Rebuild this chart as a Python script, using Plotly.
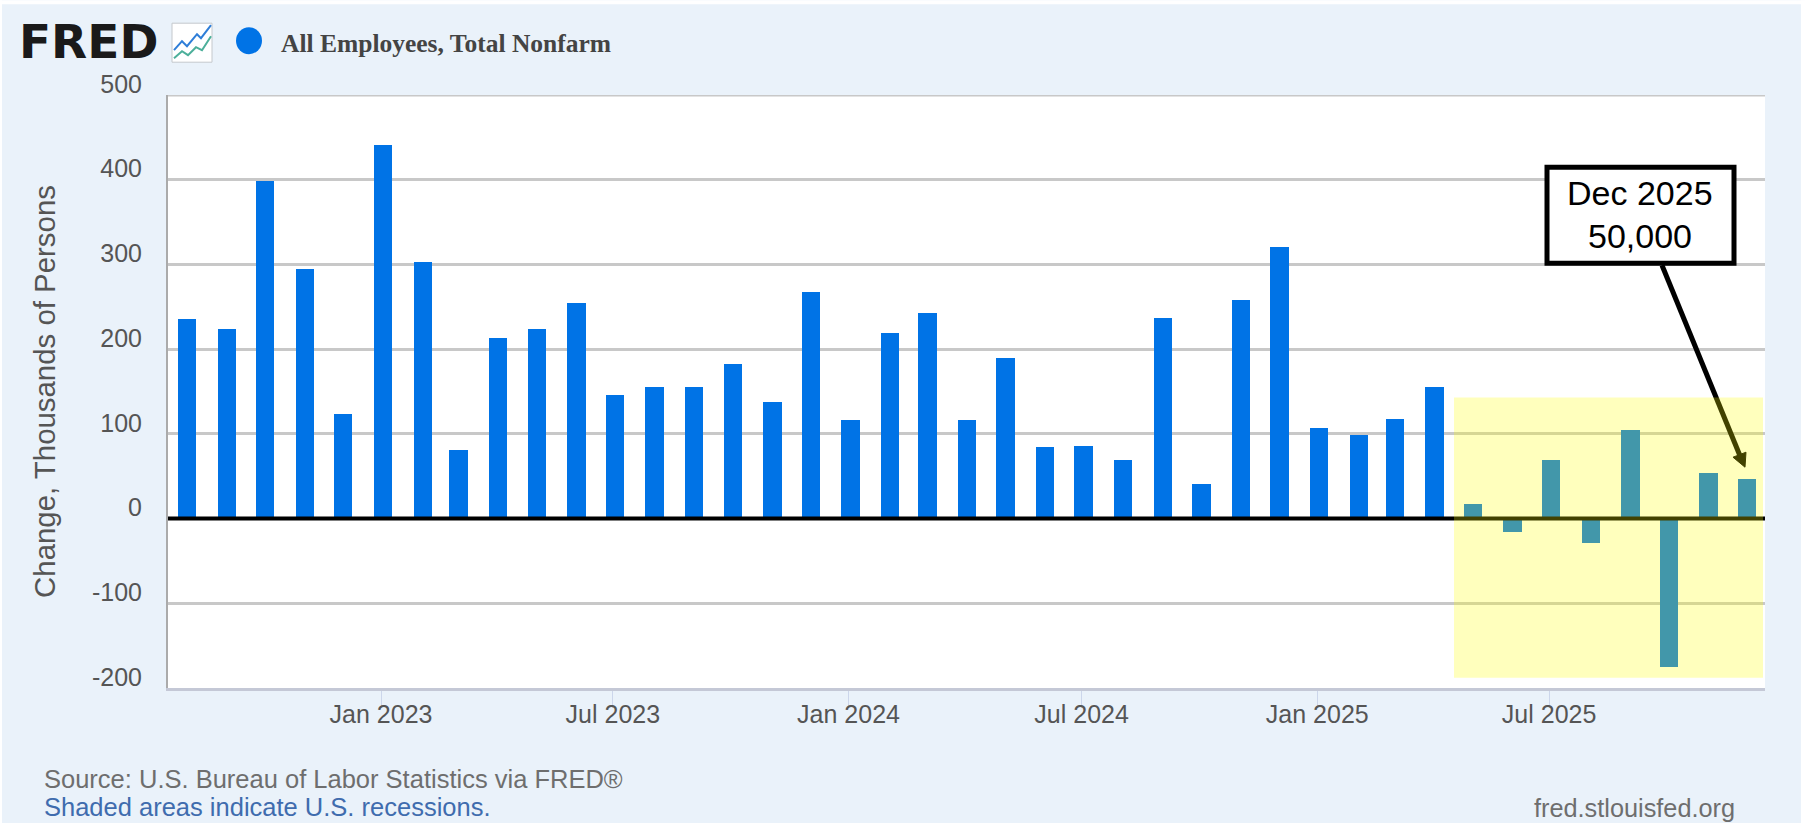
import plotly.graph_objects as go
import pandas as pd

start_month = "2022-08-01"
values = [235, 224, 398, 295, 123, 441, 303, 81, 213, 224, 254, 146, 155, 155, 182, 138, 267,
          116, 219, 243, 116, 189, 84, 86, 69, 237, 41, 258, 321,
          107, 99, 118, 155, 17, -16, 69, -29, 105, -175, 54, 47]
months = pd.date_range(start_month, periods=len(values), freq="MS")
series_name = "All Employees, Total Nonfarm"
y_title = "Change, Thousands of Persons"
y_ticks = [-200, -100, 0, 100, 200, 300, 400, 500]
y_labels = ["-200", "-100", "0", "100", "200", "300", "400", "500"]
callout = ["Dec 2025", "50,000"]
highlight_top = 143
highlight_bottom = -188

SANS = "Liberation Sans"
DAY = 86400000
L, R, T, B = 168, 1765, 94.8, 687.8
W, H = 1805, 823


def px(x):
    return (x - L) / (R - L)


def py(y):
    return (B - y) / (B - T)


def path(points, close=True):
    d = "M" + " L".join(f"{px(x):.5f},{py(y):.5f}" for x, y in points)
    return d + (" Z" if close else "")


def box(x0, y0, x1, y1, fill, line=None, lw=0, kind="rect"):
    return dict(type=kind, xref="paper", yref="paper", x0=px(x0), x1=px(x1), y0=py(y0), y1=py(y1),
                fillcolor=fill, line=dict(color=line or fill, width=lw), layer="above")


def note(text, x, y, size, color, anchor="left", family=SANS, **kw):
    return dict(text=text, x=px(x), y=py(y), xref="paper", yref="paper", showarrow=False,
                xanchor=anchor, yanchor="middle", font=dict(family=family, size=size, color=color, **kw))


fig = go.Figure(go.Bar(x=months, y=values, width=14.3 * DAY, offset=-5.6 * DAY,
                       marker=dict(color="#0073E6", line=dict(width=0)), name=series_name))

shapes = [
    # white edge of the page
    box(0, 0, 2, 823, "#FFFFFF"),
    box(0, 0, 1805, 4, "#FFFFFF"),
    box(1801, 0, 1805, 823, "#FFFFFF"),
    # logo icon
    box(172, 23, 212, 62, "#FFFFFF", "#C4C8CC", 1),
    dict(type="path", xref="paper", yref="paper", layer="above",
         path=path([(174, 50), (182, 41), (187, 46), (197, 34), (201, 38), (211, 25)], False),
         line=dict(color="#2F7ED8", width=2)),
    dict(type="path", xref="paper", yref="paper", layer="above",
         path=path([(174, 58), (182, 51), (188, 55), (196, 47), (202, 50), (211, 36)], False),
         line=dict(color="#4CAF9A", width=2)),
    # legend dot
    box(236, 27, 262, 54, "#0073E6", kind="circle"),
    # top gridline
    dict(type="line", xref="paper", yref="y", x0=0, x1=1, y0=500, y1=500, layer="below",
         line=dict(color="#C8C8C8", width=3)),
    # zero line
    dict(type="line", xref="paper", yref="y", x0=0, x1=1, y0=0, y1=0, layer="above",
         line=dict(color="#000000", width=4)),
    # arrow
    dict(type="path", xref="paper", yref="paper", layer="above",
         path=path([(1662, 265), (1741, 458)], False), line=dict(color="#000000", width=5)),
    dict(type="path", xref="paper", yref="paper", layer="above",
         path=path([(1745, 467), (1733, 457), (1746, 452)]), fillcolor="#000000",
         line=dict(color="#000000", width=1)),
    # highlight
    dict(type="rect", xref="paper", yref="y", x0=px(1454), x1=px(1763),
         y0=highlight_bottom, y1=highlight_top, layer="above",
         fillcolor="rgba(255,255,0,0.26)", line=dict(width=0)),
    # callout box
    box(1547, 167, 1734, 263, "#FFFFFF", "#000000", 5),
]

annotations = [
    note("FRED", 17, 41.5, 47, "#1A1A1A", family="DejaVu Sans", weight="bold"),
    note(series_name, 279, 43, 25.5, "#444444", family="Liberation Serif", weight="bold"),
    note(callout[0], 1640, 193, 34, "#000000", "center"),
    note(callout[1], 1640, 236, 34, "#000000", "center"),
    note("Source: U.S. Bureau of Labor Statistics via FRED®", 42, 779, 25.5, "#6E6E6E"),
    note("Shaded areas indicate U.S. recessions.", 42, 807, 25.5, "#3F6CAE"),
    note("fred.stlouisfed.org", 1737, 808, 25.3, "#6E6E6E", "right"),
]

fig.update_layout(
    width=W, height=H, autosize=False,
    margin=dict(l=L, r=W - R, t=T, b=H - B, pad=0),
    paper_bgcolor="#EAF2FA", plot_bgcolor="#FFFFFF",
    showlegend=False, bargap=0,
    shapes=shapes, annotations=annotations,
    font=dict(family=SANS, color="#555555", size=25),
    xaxis=dict(type="date", range=["2022-07-18 16:00", "2025-12-16 14:00"],
               tick0="2023-01-01", dtick="M6", tickformat="%b %Y",
               ticks="outside", ticklen=17, tickwidth=1, tickcolor="#CCD6EB",
               showgrid=False, zeroline=False, showline=True, linecolor="#C4C8D6", linewidth=3,
               tickfont=dict(size=25, color="#555555"), ticklabelstandoff=-15),
    yaxis=dict(range=[-200, 500], tickvals=y_ticks, ticktext=y_labels, ticks="", showgrid=True,
               gridcolor="#C8C8C8", gridwidth=3, zeroline=False, showline=True,
               linecolor="#ABABAB", linewidth=2, tickfont=dict(size=25, color="#555555"),
               ticklabelshift=-11, ticklabelstandoff=19,
               title=dict(text=y_title, font=dict(size=29.4, color="#555555"), standoff=28)),
)

fig.write_html("out.html", config=dict(displayModeBar=False),
               post_script="document.body.style.margin='0';document.documentElement.style.overflow='hidden';")
